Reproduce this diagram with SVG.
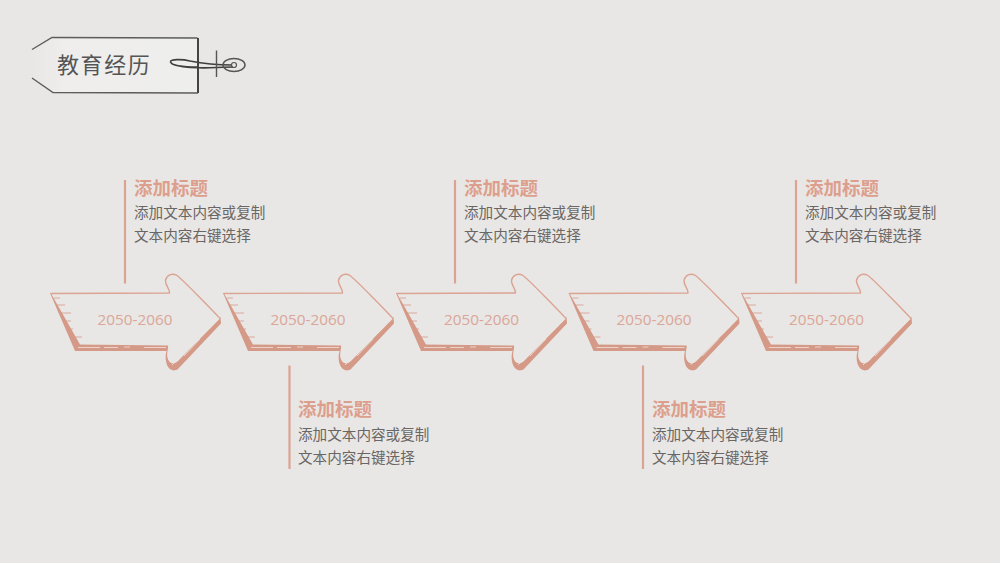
<svg xmlns="http://www.w3.org/2000/svg" width="1000" height="563" viewBox="0 0 1000 563">
<style>
.f{font-family:"Noto Sans CJK SC","Liberation Sans",sans-serif}
.h{font-size:18.500px;font-weight:700;fill:#dd9f8d}
.b{font-size:14.600px;fill:#6a6664}
.y{font-family:"Open Sans","Liberation Sans",sans-serif;font-size:15.300px;fill:#d9a697;text-anchor:middle}
.v{stroke:#dba392;stroke-width:2.200;fill:none}
.t{stroke:#f0e2dc;stroke-width:.8;fill:none}
.s{stroke:#d49a88;stroke-width:.8;fill:none}
</style>
<defs>
<g id="arrow">
<path d="M50 293L75 351L166.500 351C165 356 165.500 361 167 365C169 370 174 372 178 369L221 323.500L220.500 317L172 362L168 345L80 343L55 293Z" fill="#d59a87"/>
<path d="M51 293.500L169.500 293C170 289 165 285 165.500 280.500C166.500 275 172 272.500 177 275.500C181 278 216 314 220 318.500L178 361C174 365 169 364 167.500 358C166.500 354 168 349 168.500 345.500L80 344.500Z" fill="#e9e7e5"/>
<path d="M50.500 293.500L169.500 293C170 289 165 285 165.500 280.500C166.500 275 172 272.500 177 275.500C181 278 216 314 220 318.500" fill="none" stroke="#dba392" stroke-width="1.400" stroke-linejoin="round"/>
<path class="s" d="M54 298H60M57 305H65M60 313H71M63 321H71M66 329H73M71 337H82"/>
<path class="t" d="M78 347.500H100M104 347.500H118M124 347H130M144 347.500H166M172 365L176 361M184 356L200 339M204 334L212 326"/>
</g>
<linearGradient id="tagfill" x1="0" x2="1" y1="0" y2="0"><stop offset="0" stop-color="#e9e7e5"/><stop offset=".2" stop-color="#efeeed"/><stop offset="1" stop-color="#eeeeed"/></linearGradient>
</defs>
<rect width="1000" height="563" fill="#e9e7e5"/>
<g id="tag">
<path d="M32 49.500L52 37.500L198 38L198 93L53 92.500L32 78Z" fill="url(#tagfill)"/>
<path d="M32 49.500L52 37.500L197.500 38M32 78L53 92.500L198 93" fill="none" stroke="#5c5c5c" stroke-width="1.400"/>
<path d="M198 38V93" stroke="#444" stroke-width="2" fill="none"/>
<path d="M198 67C186 67 172 66 170.500 62C170 59 182 59 190 61C200 63 212 65 232 65M172 64C185 69 210 68 233 67" fill="none" stroke="#3f3f3f" stroke-width="1.700"/>
<path d="M216.500 50.500V77" stroke="#555" stroke-width="1.400"/>
<ellipse cx="234" cy="65" rx="11" ry="6.500" fill="none" stroke="#555" stroke-width="1.500"/>
<circle cx="234" cy="65" r="2.500" fill="none" stroke="#555" stroke-width="1.200"/>
<text class="f" x="57" y="73" font-size="22" letter-spacing="1.600" fill="#555">教育经历</text>
</g>
<g id="connectors">
<path class="v" d="M125 180V283.500M455 180V283.500M796 180V283.500M289.500 365.500V469M643 365.500V469"/>
</g>
<g id="node-1"><use href="#arrow"/><text class="y" x="135" y="325">2050-2060</text></g>
<g id="node-2"><use href="#arrow" x="173"/><text class="y" x="308" y="325">2050-2060</text></g>
<g id="node-3"><use href="#arrow" x="346"/><text class="y" x="481.500" y="325">2050-2060</text></g>
<g id="node-4"><use href="#arrow" x="518.500"/><text class="y" x="654" y="325">2050-2060</text></g>
<g id="node-5"><use href="#arrow" x="691"/><text class="y" x="826.500" y="325">2050-2060</text></g>
<g id="label-1"><text class="f h" x="134" y="195">添加标题</text><text class="f b" x="134" y="218">添加文本内容或复制</text><text class="f b" x="134" y="241">文本内容右键选择</text></g>
<g id="label-2"><text class="f h" x="298" y="416">添加标题</text><text class="f b" x="298" y="440">添加文本内容或复制</text><text class="f b" x="298" y="463">文本内容右键选择</text></g>
<g id="label-3"><text class="f h" x="464" y="195">添加标题</text><text class="f b" x="464" y="218">添加文本内容或复制</text><text class="f b" x="464" y="241">文本内容右键选择</text></g>
<g id="label-4"><text class="f h" x="652" y="416">添加标题</text><text class="f b" x="652" y="440">添加文本内容或复制</text><text class="f b" x="652" y="463">文本内容右键选择</text></g>
<g id="label-5"><text class="f h" x="805" y="195">添加标题</text><text class="f b" x="805" y="218">添加文本内容或复制</text><text class="f b" x="805" y="241">文本内容右键选择</text></g>
</svg>
